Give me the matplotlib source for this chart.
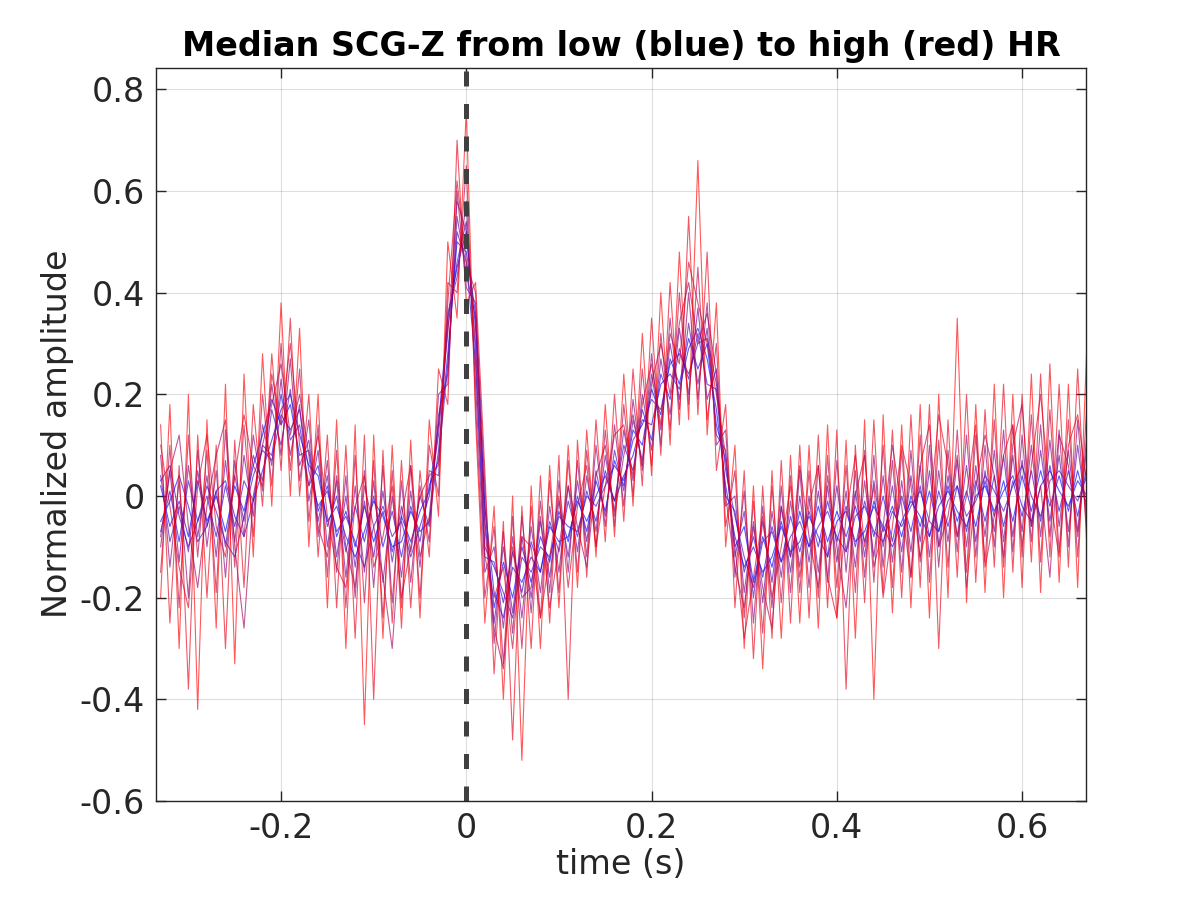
import numpy as np
import matplotlib as mpl
mpl.use('Agg')
import matplotlib.pyplot as plt

# sampling grid of the beats (s)
t_start = -0.33
t_step = 0.01

# median beats, ordered from lowest to highest heart rate
beat_01 = [0.02,-0.06,-0.01,-0.08,0.03,-0.05,0.00,-0.07,0.02,-0.03,
           0.06,0.12,0.19,0.14,0.18,0.08,0.09,-0.03,0.02,-0.08,
           -0.03,-0.10,-0.02,-0.09,-0.03,-0.11,-0.04,-0.09,-0.03,0.01,
           0.14,0.35,0.45,0.52,0.33,-0.05,-0.22,-0.13,-0.20,-0.10,
           -0.17,-0.08,-0.13,-0.03,-0.09,0.00,-0.07,0.03,-0.03,0.07,
           0.02,0.13,0.10,0.21,0.16,0.27,0.22,0.31,0.25,0.30,
           0.14,0.07,-0.10,-0.06,-0.17,-0.08,-0.14,-0.05,-0.12,-0.03,
           -0.10,-0.02,-0.09,-0.03,-0.08,-0.02,-0.09,-0.01,-0.07,-0.02,
           -0.08,0.00,-0.06,0.01,-0.07,0.02,-0.05,0.01,-0.06,0.03,
           -0.04,0.03,-0.05,0.04,-0.03,0.05,-0.02,0.04,-0.03,0.05,
           -0.02]
beat_02 = [-0.05,-0.01,0.04,-0.02,-0.09,-0.06,0.01,0.03,-0.04,-0.08,
           -0.01,0.05,0.11,0.17,0.20,0.12,0.06,0.04,-0.05,-0.02,
           -0.08,-0.12,-0.07,-0.01,-0.04,-0.10,-0.09,-0.03,-0.07,-0.05,
           0.09,0.28,0.50,0.48,0.36,-0.02,-0.19,-0.24,-0.14,-0.17,
           -0.12,-0.15,-0.06,-0.09,-0.08,-0.01,-0.05,0.00,0.04,-0.01,
           0.04,0.08,0.15,0.14,0.22,0.24,0.21,0.29,0.33,0.27,
           0.17,0.02,-0.08,-0.14,-0.10,-0.15,-0.12,-0.06,-0.11,-0.09,
           -0.04,-0.08,-0.12,-0.05,-0.03,-0.09,-0.07,-0.02,-0.06,-0.10,
           -0.05,-0.01,-0.04,-0.08,-0.02,0.01,-0.03,-0.06,0.00,0.02,
           -0.03,0.01,0.04,-0.02,-0.05,0.02,0.05,0.01,-0.02,0.03,
           0.00]
beat_03 = [-0.07,0.01,-0.09,0.03,-0.05,0.00,-0.08,0.02,-0.06,0.03,
           -0.01,0.10,0.08,0.20,0.11,0.14,0.02,0.06,-0.06,0.00,
           -0.11,-0.02,-0.09,0.00,-0.10,-0.03,-0.12,-0.02,-0.09,0.02,
           0.07,0.26,0.52,0.46,0.26,-0.12,-0.13,-0.21,-0.11,-0.19,
           -0.09,-0.15,-0.05,-0.11,-0.01,-0.08,0.01,-0.05,0.05,-0.01,
           0.10,0.05,0.17,0.11,0.24,0.19,0.29,0.23,0.32,0.22,
           0.21,0.00,-0.03,-0.15,-0.08,-0.16,-0.06,-0.13,-0.04,-0.11,
           -0.03,-0.10,-0.01,-0.09,-0.02,-0.10,-0.01,-0.08,0.00,-0.09,
           0.00,-0.07,0.02,-0.08,0.01,-0.06,0.02,-0.07,0.03,-0.05,
           0.04,-0.06,0.03,-0.04,0.05,-0.05,0.06,-0.03,0.05,-0.04,
           0.06]
beat_04 = [0.03,0.06,-0.04,-0.10,-0.05,0.02,-0.03,-0.09,-0.12,-0.04,
           0.04,0.09,0.07,0.16,0.13,0.17,0.05,-0.02,0.01,-0.07,
           -0.04,-0.09,-0.14,-0.06,-0.02,-0.08,-0.05,-0.12,-0.06,0.00,
           0.12,0.33,0.46,0.54,0.28,-0.10,-0.14,-0.19,-0.24,-0.12,
           -0.15,-0.10,-0.12,-0.04,-0.06,-0.07,0.00,-0.02,0.02,0.06,
           0.03,0.11,0.14,0.19,0.17,0.26,0.28,0.24,0.30,0.31,
           0.22,0.05,-0.04,-0.12,-0.18,-0.09,-0.07,-0.13,-0.08,-0.05,
           -0.10,-0.06,-0.03,-0.08,-0.11,-0.04,-0.02,-0.07,-0.09,-0.03,
           -0.06,-0.02,0.01,-0.05,-0.07,-0.01,0.02,-0.04,-0.01,0.04,
           0.01,-0.03,0.02,0.06,0.00,-0.04,0.03,0.05,0.02,-0.01,
           0.04]
beat_05 = [0.04,-0.09,-0.02,-0.11,0.05,-0.06,0.01,-0.10,0.04,-0.05,
           0.08,0.03,0.17,0.10,0.21,0.06,0.11,-0.05,0.04,-0.12,
           0.00,-0.14,-0.01,-0.12,0.01,-0.13,-0.02,-0.11,0.00,-0.06,
           0.16,0.24,0.55,0.44,0.35,-0.02,-0.25,-0.10,-0.23,-0.08,
           -0.20,-0.05,-0.16,-0.01,-0.12,0.03,-0.09,0.05,-0.04,0.09,
           0.01,0.15,0.07,0.24,0.13,0.30,0.19,0.34,0.22,0.33,
           0.12,0.09,-0.12,-0.03,-0.20,-0.05,-0.17,-0.02,-0.15,0.00,
           -0.13,0.01,-0.12,0.02,-0.11,0.01,-0.12,0.03,-0.10,0.02,
           -0.11,0.04,-0.09,0.05,-0.10,0.04,-0.08,0.06,-0.09,0.05,
           -0.07,0.08,-0.08,0.07,-0.06,0.09,-0.05,0.08,-0.07,0.10,
           -0.04]
beat_06 = [-0.10,0.05,-0.13,0.06,-0.08,0.04,-0.12,0.07,-0.09,0.08,
           -0.04,0.14,0.06,0.23,0.08,0.18,-0.01,0.09,-0.10,0.03,
           -0.16,0.02,-0.15,0.03,-0.17,0.00,-0.16,0.01,-0.14,0.05,
           0.04,0.36,0.43,0.58,0.22,-0.15,-0.10,-0.26,-0.08,-0.24,
           -0.06,-0.19,-0.02,-0.15,0.02,-0.11,0.04,-0.07,0.08,-0.03,
           0.13,0.03,0.20,0.09,0.27,0.16,0.33,0.20,0.37,0.19,
           0.25,-0.02,0.00,-0.19,-0.05,-0.21,-0.03,-0.16,-0.01,-0.14,
           0.00,-0.15,0.02,-0.13,0.01,-0.14,0.03,-0.12,0.04,-0.13,
           0.03,-0.11,0.06,-0.12,0.05,-0.09,0.07,-0.10,0.06,-0.08,
           0.09,-0.09,0.08,-0.07,0.10,-0.08,0.11,-0.06,0.09,-0.07,
           0.12]
beat_07 = [0.08,-0.14,0.03,-0.20,0.09,-0.10,0.05,-0.16,0.07,-0.08,
           0.12,0.01,0.22,0.08,0.27,0.03,0.15,-0.08,0.07,-0.15,
           0.04,-0.20,0.05,-0.18,0.06,-0.21,0.03,-0.17,0.02,-0.09,
           0.20,0.22,0.60,0.41,0.38,0.02,-0.29,-0.07,-0.27,-0.04,
           -0.23,-0.01,-0.19,0.03,-0.15,0.07,-0.12,0.10,-0.06,0.14,
           -0.02,0.19,0.05,0.28,0.10,0.35,0.17,0.40,0.19,0.38,
           0.10,0.13,-0.16,0.01,-0.25,-0.02,-0.22,0.02,-0.19,0.05,
           -0.18,0.06,-0.17,0.07,-0.15,0.05,-0.16,0.08,-0.14,0.07,
           -0.15,0.09,-0.13,0.10,-0.14,0.09,-0.11,0.12,-0.12,0.10,
           -0.10,0.13,-0.11,0.12,-0.09,0.14,-0.08,0.13,-0.10,0.15,
           -0.07]
beat_08 = [-0.08,0.05,0.12,-0.06,-0.18,-0.02,0.08,0.15,-0.10,-0.26,
           0.00,0.10,0.18,0.26,0.12,0.20,0.08,-0.06,-0.12,0.04,
           -0.10,-0.18,0.02,-0.06,-0.16,-0.30,-0.04,0.06,-0.12,-0.04,
           0.14,0.32,0.58,0.52,0.30,-0.06,-0.26,-0.34,-0.10,-0.20,
           -0.18,-0.04,-0.22,-0.10,0.02,-0.06,-0.14,0.04,0.10,-0.04,
           0.08,0.16,0.06,0.22,0.30,0.20,0.34,0.42,0.30,0.36,
           0.24,0.00,-0.14,-0.22,-0.06,-0.18,-0.26,-0.02,-0.12,0.06,
           -0.08,-0.18,0.04,-0.10,-0.22,0.00,0.08,-0.14,-0.06,0.10,
           -0.02,-0.16,0.06,0.14,-0.10,-0.04,0.08,-0.18,0.02,0.12,
           0.04,-0.12,0.10,0.18,-0.06,0.02,-0.16,0.12,0.06,-0.08,
           0.10]
beat_09 = [-0.15,0.10,-0.22,0.12,-0.12,0.09,-0.19,0.13,-0.14,0.14,
           -0.08,0.20,0.02,0.30,0.05,0.25,-0.05,0.14,-0.16,0.09,
           -0.22,0.08,-0.21,0.07,-0.24,0.05,-0.22,0.06,-0.20,0.10,
           0.00,0.42,0.40,0.65,0.18,-0.20,-0.06,-0.33,-0.04,-0.30,
           -0.02,-0.24,0.03,-0.19,0.07,-0.15,0.09,-0.10,0.13,-0.06,
           0.18,0.00,0.25,0.06,0.32,0.13,0.40,0.18,0.45,0.15,
           0.30,-0.06,0.05,-0.24,-0.01,-0.27,0.02,-0.21,0.04,-0.19,
           0.05,-0.20,0.08,-0.18,0.06,-0.19,0.09,-0.17,0.10,-0.18,
           0.09,-0.16,0.12,-0.17,0.11,-0.14,0.13,-0.15,0.12,-0.13,
           0.15,-0.14,0.14,-0.12,0.16,-0.13,0.17,-0.11,0.15,-0.12,
           0.18]
beat_10 = [0.10,-0.02,-0.14,-0.22,0.02,0.12,-0.06,-0.12,0.04,0.16,
           0.06,0.02,0.24,0.14,0.30,0.10,0.02,0.12,-0.04,-0.14,
           -0.18,-0.02,0.04,-0.14,-0.08,0.02,-0.20,-0.10,0.00,0.04,
           0.06,0.38,0.62,0.46,0.40,-0.12,-0.20,-0.14,-0.30,-0.08,
           -0.10,-0.24,-0.12,0.00,-0.18,-0.02,0.06,-0.10,0.02,0.12,
           0.14,0.04,0.18,0.26,0.14,0.32,0.26,0.46,0.38,0.30,
           0.20,0.08,-0.10,-0.28,-0.16,-0.04,-0.20,-0.10,0.02,-0.16,
           -0.02,0.06,-0.16,-0.24,-0.04,0.08,-0.10,0.02,-0.20,-0.06,
           0.10,0.02,-0.12,-0.04,0.16,0.06,-0.08,0.00,0.14,-0.14,
           -0.04,0.08,0.14,-0.10,0.06,0.20,0.00,-0.12,0.10,0.16,
           0.02]
beat_11 = [0.14,-0.25,0.06,-0.38,0.12,-0.20,0.10,-0.30,0.11,-0.18,
           0.18,-0.02,0.28,0.05,0.35,0.00,0.20,-0.12,0.12,-0.22,
           0.10,-0.28,0.12,-0.40,0.09,-0.25,0.07,-0.22,0.05,-0.12,
           0.25,0.18,0.70,0.38,0.42,0.05,-0.35,-0.05,-0.48,-0.02,
           -0.30,0.04,-0.25,0.08,-0.40,0.11,-0.16,0.15,-0.09,0.20,
           -0.05,0.25,0.02,0.35,0.08,0.42,0.14,0.55,0.16,0.48,
           0.05,0.18,-0.22,0.05,-0.32,0.02,-0.28,0.07,-0.25,0.10,
           -0.24,0.12,-0.22,0.13,-0.38,0.10,-0.21,0.15,-0.19,0.13,
           -0.20,0.16,-0.18,0.18,-0.30,0.15,-0.16,0.20,-0.17,0.17,
           -0.14,0.22,-0.15,0.20,-0.13,0.24,-0.12,0.22,-0.14,0.25,
           -0.10]
beat_12 = [-0.20,0.18,-0.30,0.20,-0.42,0.15,-0.26,0.22,-0.33,0.24,
           -0.12,0.28,-0.02,0.38,0.00,0.33,-0.10,0.20,-0.22,0.15,
           -0.30,0.14,-0.45,0.12,-0.28,0.10,-0.26,0.11,-0.24,0.15,
           -0.04,0.50,0.35,0.76,0.15,-0.25,-0.02,-0.40,0.00,-0.52,
           0.02,-0.30,0.06,-0.22,0.10,-0.18,0.13,-0.12,0.18,-0.08,
           0.24,-0.02,0.32,0.04,0.40,0.10,0.48,0.15,0.66,0.12,
           0.38,-0.10,0.10,-0.30,0.02,-0.34,0.05,-0.28,0.08,-0.25,
           0.10,-0.26,0.14,-0.24,0.11,-0.28,0.15,-0.40,0.16,-0.23,
           0.14,-0.22,0.18,-0.24,0.20,-0.20,0.35,-0.21,0.18,-0.19,
           0.22,-0.20,0.20,-0.18,0.24,-0.19,0.26,-0.17,0.22,-0.18,
           0.30]

beats = [beat_01, beat_02, beat_03, beat_04, beat_05, beat_06,
         beat_07, beat_08, beat_09, beat_10, beat_11, beat_12]

plt.rcParams['font.family'] = 'DejaVu Sans'
plt.rcParams['axes.unicode_minus'] = False

fig = plt.figure(figsize=(12, 9), dpi=100)
ax = fig.add_axes([0.13, 0.11, 0.775, 0.815])

n = len(beats)
for k, beat in enumerate(beats):
    t = t_start + t_step * np.arange(len(beat))
    f = k / (n - 1)
    ax.plot(t, beat, color=(f, 0, 1 - f), alpha=0.65, lw=0.8)

# R-peak marker
ax.axvline(0, color=(0.25, 0.25, 0.25), lw=3.6, ls=(0, (3.0, 3.5)))

ax.set_xlim(-0.335, 0.669)
ax.set_ylim(-0.6, 0.843)
ax.set_xticks([-0.2, 0, 0.2, 0.4, 0.6])
ax.set_xticklabels(['-0.2', '0', '0.2', '0.4', '0.6'])
ax.set_yticks([-0.6, -0.4, -0.2, 0, 0.2, 0.4, 0.6, 0.8])
ax.set_yticklabels(['-0.6', '-0.4', '-0.2', '0', '0.2', '0.4', '0.6', '0.8'])

dark = (0.15, 0.15, 0.15)
ax.grid(True, color=(0.15, 0.15, 0.15), alpha=0.15, lw=0.8)
ax.set_axisbelow(True)
ax.tick_params(direction='in', length=7, width=1, top=True, right=True,
               labelsize=24, colors=dark, pad=8)
for s in ax.spines.values():
    s.set_color(dark)
    s.set_linewidth(1)

ax.set_xlabel('time (s)', fontsize=24, color=dark, labelpad=2)
ax.set_ylabel('Normalized amplitude', fontsize=24, color=dark, labelpad=4)
ax.set_title('Median SCG-Z from low (blue) to high (red) HR',
             fontsize=24, fontweight='bold', color='black', pad=8)

fig.savefig('out.png', dpi=100)
